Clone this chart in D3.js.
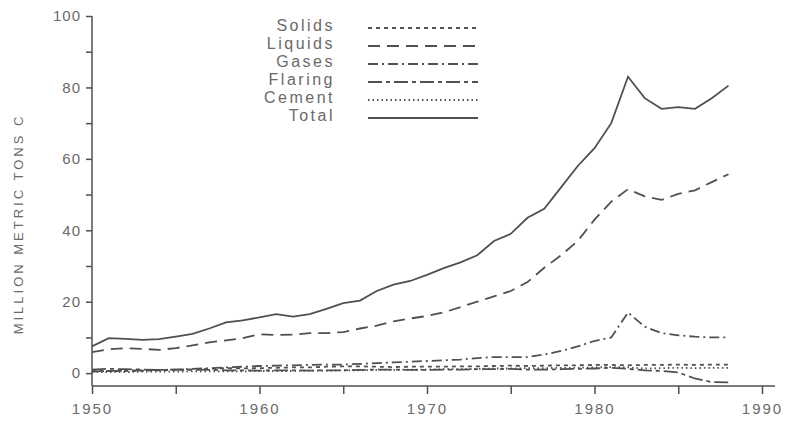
<!DOCTYPE html>
<html>
<head>
<meta charset="utf-8">
<script src="https://cdn.jsdelivr.net/npm/d3@7"></script>
<style>
  body { margin: 0; background: #fff; }
  text { font-family: "Liberation Sans", "DejaVu Sans", sans-serif; fill: #6a6a6a; }
</style>
</head>
<body>
<svg id="chart"></svg>
<script>
const years = d3.range(1950, 1989);

const solids = [0.5,0.6,0.6,0.7,0.8,0.9,1.0,1.2,1.4,1.3,1.4,1.5,1.6,1.6,1.8,1.9,1.9,1.8,1.7,1.8,
  1.8,1.8,1.9,1.9,2.0,2.1,2.0,2.1,2.2,2.2,2.3,2.3,2.2,2.3,2.3,2.4,2.3,2.4,2.4];
const liquids = [5.9,6.7,7.0,6.8,6.5,7.0,7.8,8.6,9.2,9.8,10.9,10.7,10.8,11.2,11.2,11.5,12.5,13.3,14.5,15.3,
  16.0,17.0,18.5,20.0,21.5,23.0,25.5,29.5,33.0,37.0,43.0,48.0,51.5,49.5,48.5,50.2,51.2,53.5,55.7];
const gases = [0.5,0.6,0.7,0.8,0.9,1.0,1.2,1.4,1.6,1.8,2.0,2.1,2.2,2.3,2.4,2.4,2.6,2.8,3.0,3.2,
  3.4,3.6,3.8,4.2,4.5,4.5,4.5,5.2,6.2,7.5,9.0,10.0,17.0,13.0,11.2,10.6,10.2,10.0,10.0];
const flaring = [1.0,1.2,1.1,1.0,0.9,1.0,1.0,0.9,0.8,0.8,0.7,0.8,0.8,0.7,0.8,0.8,0.9,1.0,1.0,0.9,
  0.9,1.0,1.0,1.1,1.1,1.2,1.0,1.0,1.1,1.2,1.3,1.5,1.2,0.8,0.6,0.2,-1.5,-2.5,-2.6];
const cement = [0.3,0.3,0.3,0.4,0.4,0.4,0.5,0.5,0.5,0.5,0.6,0.6,0.6,0.7,0.7,0.8,0.8,0.9,0.9,1.0,
  1.0,1.1,1.1,1.2,1.3,1.3,1.4,1.4,1.5,1.5,1.6,1.7,1.6,1.3,1.4,1.5,1.4,1.5,1.5];
const total = [7.5,9.8,9.6,9.3,9.5,10.2,11.0,12.5,14.2,14.8,15.6,16.5,15.8,16.5,18.0,19.6,20.3,23.0,24.8,25.8,
  27.5,29.4,31.0,33.0,37.0,39.0,43.5,46.0,52.0,58.0,63.0,70.0,83.0,77.0,74.0,74.5,74.0,77.0,80.5];

const seriesNames = ["Solids", "Liquids", "Gases", "Flaring", "Cement", "Total"];
const seriesValues = [solids, liquids, gases, flaring, cement, total];
const dashes = ["4,4", "12,7", "10,4,2,4", "14,4,4,4", "1.5,3", null];

const yTickLabels = [0, 20, 40, 60, 80, 100];
const xTickLabels = [1950, 1960, 1970, 1980, 1990];

const width = 792, height = 425;
const svg = d3.select("#chart").attr("width", width).attr("height", height);

const x = d3.scaleLinear().domain([1950, 1990]).range([92, 762]);
const y = d3.scaleLinear().domain([-3.6, 100]).range([386, 16]);

const ink = "#505050";

// y axis
const yaxis = d3.axisLeft(y)
  .tickValues(d3.range(0, 101, 10))
  .tickSize(6)
  .tickFormat(d => yTickLabels.includes(d) ? d : "");
svg.append("g")
  .attr("transform", "translate(92,0)")
  .call(yaxis)
  .call(g => g.select(".domain").attr("d", `M-0,${y(100)}V386`).attr("stroke", ink).attr("stroke-width", 1.5))
  .call(g => g.selectAll(".tick line").attr("stroke", ink).attr("stroke-width", 1.5))
  .call(g => g.selectAll(".tick text").attr("font-size", 15).attr("letter-spacing", 1).attr("dx", -2).attr("fill", "#6a6a6a"));

// x axis
const xaxis = d3.axisBottom(x)
  .tickValues(d3.range(1950, 1991, 5))
  .tickSize(8)
  .tickFormat(d => xTickLabels.includes(d) ? d : "");
svg.append("g")
  .attr("transform", "translate(0,386)")
  .call(xaxis)
  .call(g => g.select(".domain").attr("d", `M92,0H775`).attr("stroke", ink).attr("stroke-width", 1.5))
  .call(g => g.selectAll(".tick line").attr("stroke", ink).attr("stroke-width", 1.5))
  .call(g => g.selectAll(".tick text").attr("font-size", 15).attr("letter-spacing", 2).attr("dy", "1.1em").attr("fill", "#6a6a6a"));

// axis title
svg.append("text")
  .attr("transform", "translate(23,224) rotate(-90)")
  .attr("text-anchor", "middle")
  .attr("font-size", 13)
  .attr("letter-spacing", 3)
  .text("MILLION METRIC TONS C");

// lines
const line = d3.line()
  .x((d, i) => x(years[i]))
  .y(d => y(d));

seriesValues.forEach((vals, k) => {
  svg.append("path")
    .datum(vals)
    .attr("fill", "none")
    .attr("stroke", ink)
    .attr("stroke-width", 1.8)
    .attr("stroke-dasharray", dashes[k])
    .attr("d", line);
});

// legend
const legend = svg.append("g");
seriesNames.forEach((name, k) => {
  const ly = 26 + k * 18;
  legend.append("text")
    .attr("x", 335)
    .attr("y", ly + 5)
    .attr("text-anchor", "end")
    .attr("font-size", 16)
    .attr("letter-spacing", 2.5)
    .text(name);
  legend.append("line")
    .attr("x1", 368).attr("x2", 478)
    .attr("y1", ly + 2).attr("y2", ly + 2)
    .attr("stroke", ink)
    .attr("stroke-width", 1.8)
    .attr("stroke-dasharray", dashes[k]);
});
</script>
</body>
</html>
